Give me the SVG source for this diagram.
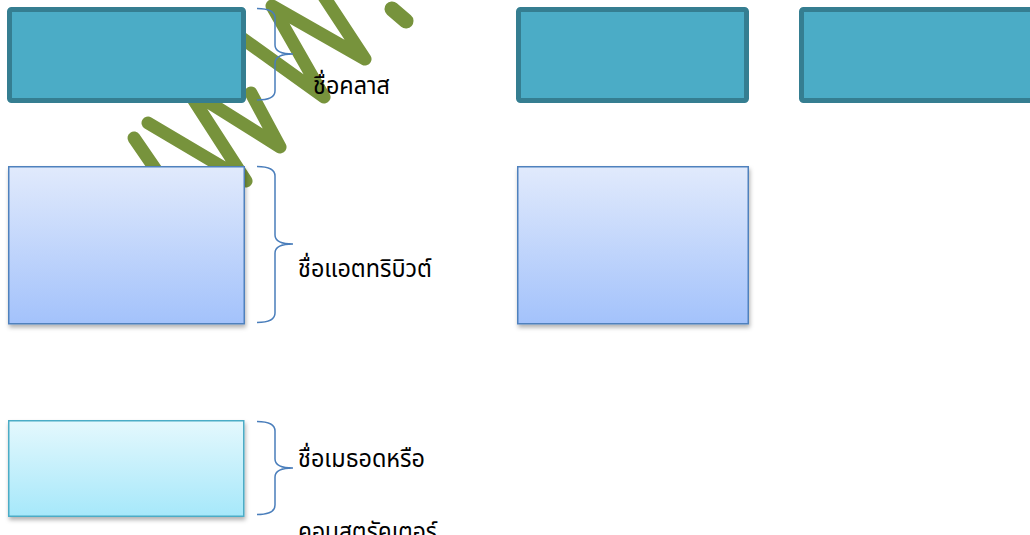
<svg xmlns="http://www.w3.org/2000/svg" width="1030" height="535" viewBox="0 0 1030 535">
  <defs>
    <linearGradient id="gAttr" x1="0" y1="0" x2="0" y2="1">
      <stop offset="0" stop-color="#e1eafc"/>
      <stop offset="1" stop-color="#a3c2fb"/>
    </linearGradient>
    <linearGradient id="gMeth" x1="0" y1="0" x2="0" y2="1">
      <stop offset="0" stop-color="#e4f8fd"/>
      <stop offset="1" stop-color="#a6e8fa"/>
    </linearGradient>
    <filter id="shadow" x="-10%" y="-10%" width="120%" height="130%">
      <feDropShadow dx="1" dy="3" stdDeviation="2" flood-color="#000" flood-opacity="0.3"/>
    </filter>
    <style>
      .wm { fill: none; stroke: #77933c; stroke-width: 13; stroke-linecap: round; stroke-linejoin: round; }
      .cls { fill: #4bacc6; stroke: #357e91; stroke-width: 5; }
      .attr { fill: url(#gAttr); stroke: #4f81bd; stroke-width: 1.5; filter: url(#shadow); }
      .meth { fill: url(#gMeth); stroke: #4bacc6; stroke-width: 1.5; filter: url(#shadow); }
      .brace { fill: none; stroke: #4a7ebb; stroke-width: 1.5; }
      .lbl { font-family: "Noto Sans Thai", "Noto Sans", "DejaVu Sans", sans-serif; font-size: 24px; fill: #000; }
    </style>
  </defs>

  <g id="watermark">
    <polyline class="wm" points="134,138 180,205"/>
    <polyline class="wm" points="148,123 246,181 186,88 280,147 251,93"/>
    <polyline class="wm" points="232,31 324,97 272,6 365,59 315,-17"/>
    <line class="wm" x1="392" y1="9" x2="406" y2="21" style="stroke-width:15"/>
  </g>

  <g id="class-box-1"><rect class="cls" x="9.5" y="9.5" width="234" height="91" rx="2"/></g>
  <g id="class-box-2"><rect class="cls" x="518.5" y="9.5" width="228" height="91" rx="2"/></g>
  <g id="class-box-3"><rect class="cls" x="801.5" y="9.5" width="240" height="91" rx="2"/></g>

  <g id="attr-box-1"><rect class="attr" x="8.75" y="166.75" width="235.5" height="157"/></g>
  <g id="attr-box-2"><rect class="attr" x="517.75" y="166.75" width="230.5" height="157"/></g>

  <g id="method-box-1"><rect class="meth" x="8.75" y="420.75" width="235" height="95.5"/></g>

  <g id="connectors">
    <path class="brace" d="M257,8.5 Q275,8.5 275,18 L275,45 Q275,54 293,54 Q275,54 275,63 L275,91 Q275,100 257,100"/>
    <path class="brace" d="M257,166.5 Q275,166.5 275,176 L275,235 Q275,244 293,244 Q275,244 275,253 L275,313 Q275,322.5 257,322.5"/>
    <path class="brace" d="M257,421.5 Q275,421.5 275,431 L275,459 Q275,468 293,468 Q275,468 275,477 L275,505 Q275,514.5 257,514.5"/>
  </g>

  <g id="labels">
    <text class="lbl" x="313" y="94" textLength="77" lengthAdjust="spacingAndGlyphs">ชื่อคลาส</text>
    <text class="lbl" x="298" y="277" textLength="134" lengthAdjust="spacingAndGlyphs">ชื่อแอตทริบิวต์</text>
    <text class="lbl" x="298" y="467" textLength="127" lengthAdjust="spacingAndGlyphs">ชื่อเมธอดหรือ</text>
    <text class="lbl" x="298" y="540" textLength="139" lengthAdjust="spacingAndGlyphs">คอนสตรัคเตอร์</text>
  </g>
</svg>
